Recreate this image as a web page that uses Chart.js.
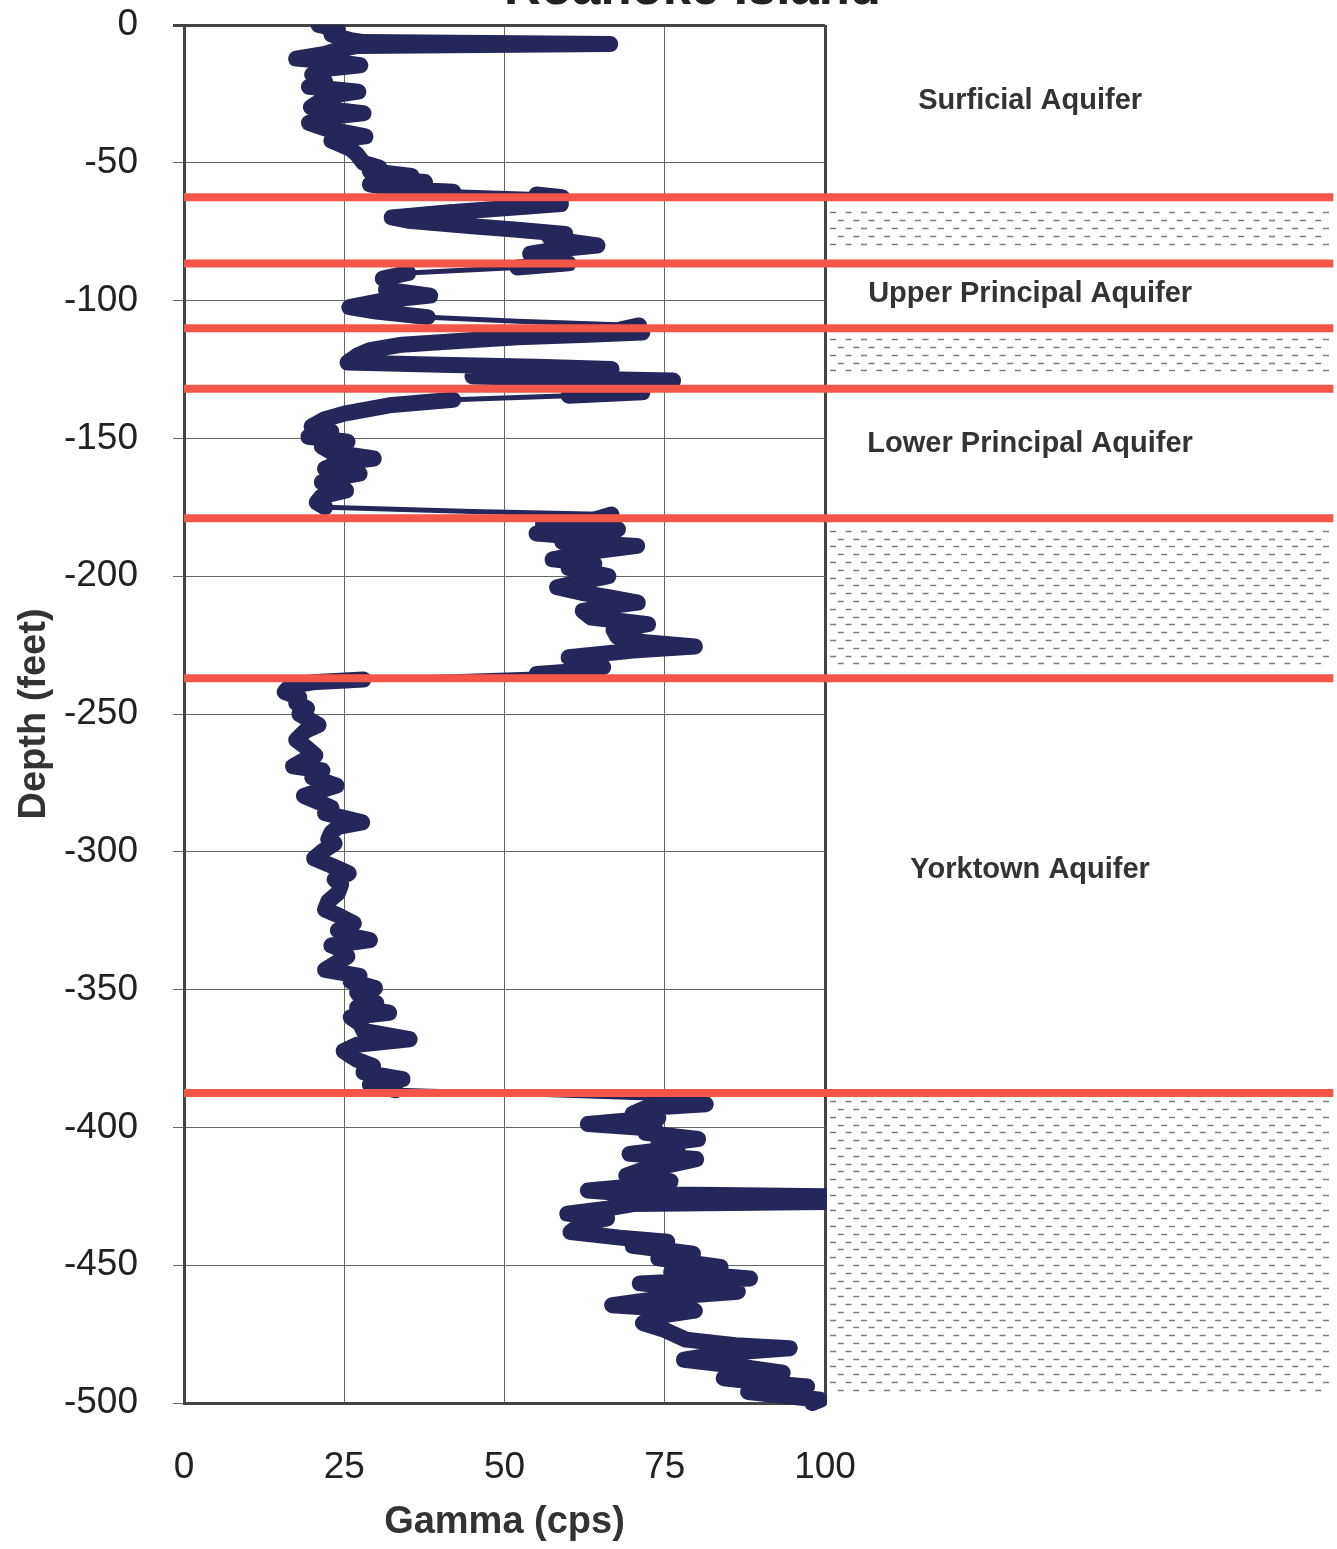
<!DOCTYPE html>
<html>
<head>
<meta charset="utf-8">
<script src="https://cdn.jsdelivr.net/npm/chart.js@4.4.1/dist/chart.umd.min.js"></script>
<style>
  html, body { margin: 0; padding: 0; background: #fff; }
  #wrap { position: relative; width: 1337px; height: 1549px; }
</style>
</head>
<body>
<div id="wrap"><canvas id="chart"></canvas></div>
<script>
const chartTitle = "Roanoke Island";

// gamma log (depth in feet, negative downwards)
const depthFt = [
  0, -1.5, -3.5, -5.5, -6.2, -6.9, -7.6, -9, -10.5, -12.2, -13.5, -14.6, -16, -18, -20.5, -22.4, -24.2, -26, -28, -29.8,
  -32, -33.5, -35.5, -37.5, -40.4, -42, -45, -47, -50, -51.8, -53, -54.8, -56, -57, -57.8, -59.5, -60.5, -61.5, -62.5, -64,
  -65, -66.5, -68, -69.8, -71, -73, -74.3, -75.8, -77, -78.5, -80, -81.5, -83, -85, -86.5, -88, -90, -92, -94, -96,
  -98.2, -100, -102.4, -104, -106, -107.5, -109, -110.5, -111.6, -112.5, -113.3, -114.5, -116, -118, -120, -122.5, -123.3, -124, -124.8, -126,
  -126.8, -127.5, -128.3, -129, -131, -133.3, -134.5, -136, -138, -141, -143, -145.7, -147.5, -149.4, -151.2, -153, -155, -157.3, -159, -161,
  -162.8, -164.5, -165.9, -167.5, -168.9, -171, -173.2, -175, -176.5, -177.6, -179.5, -181, -183, -184.5, -186, -187.5, -189, -191, -193.9, -195.5,
  -197, -200, -202, -204, -206, -207.5, -209.6, -211, -212.6, -215, -217.4, -219.5, -222, -224, -225.5, -227, -229.4, -231, -233, -234.5,
  -235.5, -236.5, -237.5, -238.5, -240, -242, -244, -246, -248, -250, -252, -254, -256, -259.4, -262, -265, -267, -269, -270.5, -273,
  -276, -278, -279.7, -282, -284, -286, -289.3, -291, -293, -295.5, -297, -300, -302.4, -305, -307.8, -310, -312, -315, -318, -321,
  -323, -326, -328.5, -330, -332, -334, -336, -338, -340, -342.8, -345, -347, -349.4, -351, -352.5, -354.8, -356.5, -358.4, -360, -362.5,
  -365, -368, -370, -372.3, -374, -375.5, -377.7, -380, -382.5, -384.5, -386.5, -388, -389.5, -391.6, -393, -395, -396.5, -398.8, -400.5, -402,
  -404.2, -406, -407.5, -409.6, -411.5, -413.5, -415, -417.5, -419.5, -421, -422.9, -424.2, -425, -427, -427.8, -429.5, -431.3, -433, -435, -438,
  -440, -441.5, -443, -445.8, -447.5, -450.6, -452.5, -454.8, -455.6, -456.6, -458, -459.6, -461.5, -464.5, -466.5, -468.5, -471, -473.5, -477, -479,
  -480.1, -482, -484.3, -486.5, -489, -491, -492.5, -494, -496, -498.8, -500
];
const gammaCps = [
  21, 24, 23, 26, 28, 66.5, 27, 24, 22, 17.5, 24, 27.5, 22, 20, 22, 19.5, 27.2, 22, 21, 19.8,
  28, 22, 19.5, 22, 28.3, 23, 26, 27, 28, 30.5, 29, 35.5, 32, 37.6, 29, 33, 42, 55, 59, 58,
  58.8, 50, 41, 32.4, 35, 45, 52, 59.5, 57, 60, 64.5, 58, 54, 56, 60, 52, 35, 31, 32, 31.5,
  38.4, 31, 25.8, 30, 38, 52, 71, 68, 71.5, 62, 52, 44, 34, 29, 27, 25.5, 40, 55, 66.7, 66,
  56, 45, 60, 76.3, 66, 71.5, 60, 42, 32, 25, 22, 19.9, 23, 19.4, 25.5, 21.5, 23, 29.6, 24, 22,
  27.4, 23, 21.5, 23, 25.3, 21.5, 20.7, 22, 45, 66.7, 64, 56, 67.7, 55, 63, 59, 70.7, 64, 57.5, 64,
  60, 66.2, 62, 58.2, 62, 66, 70.8, 66, 62.2, 63.5, 72.4, 67, 67.6, 72, 79.7, 70, 60, 63, 65.4, 61,
  55, 42, 28, 20, 16.5, 15.7, 18, 17.5, 19.2, 18, 19.5, 21, 19, 17.5, 19, 20.5, 18.5, 17, 21.6, 20,
  23.8, 21, 18.7, 21, 23, 22, 27.8, 24, 23, 22.5, 23.5, 21.5, 20.3, 23, 25.7, 23.5, 24.5, 24, 22.5, 22,
  24, 26.5, 24, 25, 29, 23, 25, 25.5, 24, 22, 27.4, 26, 29.8, 27, 27.5, 30, 27, 32, 26, 27.5,
  28, 35.2, 27, 24.9, 26, 27, 29.5, 28, 34.1, 29, 33, 55, 75, 81.4, 72, 70, 74, 63, 73.5, 72,
  80.2, 74, 77, 69.5, 79.9, 76, 72, 69, 75.9, 72, 63, 70, 102, 102, 70, 66, 59.8, 66, 62, 60.3,
  68, 75.4, 70, 79.4, 74, 83.7, 76, 88.3, 80, 71.1, 78, 86.4, 76, 66.8, 79.7, 74, 71.6, 75, 78.3, 86,
  94.5, 84, 78, 86, 93.4, 84.2, 90, 97.2, 88, 99.3, 98
];

// aquifer boundaries (red lines) and confining-unit hatch zones
const boundaryDepthFt = [-62.5, -86.5, -110, -132, -179, -237, -387.5];
const hatchTopFt = [-68, -114, -183.5, -390.5];
const hatchBottomFt = [-82, -126.5, -233, -498];
const zoneNames = ["Surficial Aquifer", "Upper Principal Aquifer", "Lower Principal Aquifer", "Yorktown Aquifer"];
const zoneLabelDepthFt = [-27.7, -97.5, -151.9, -306.6];

const FONT = "'Liberation Sans', Arial, sans-serif";
const lineEndX = 179.3;      // red lines run past the plot to the page edge
const hatchFromX = 100.8;
const hatchToX = 179;
const labelX = 132;

function isSweep(ctx) {
  const dx = Math.abs(ctx.p1.parsed.x - ctx.p0.parsed.x);
  const dy = Math.abs(ctx.p1.parsed.y - ctx.p0.parsed.y);
  return dx >= 13 && dy >= 0.9;
}

const zonePlugin = {
  id: "zones",
  beforeDatasetsDraw(chart) {
    const { ctx, scales: { x, y } } = chart;
    const x0 = x.getPixelForValue(hatchFromX);
    const x1 = x.getPixelForValue(hatchToX);
    ctx.save();
    ctx.strokeStyle = "rgba(90,90,90,0.8)";
    ctx.lineWidth = 1.4;
    hatchTopFt.forEach((top, i) => {
      const y0 = y.getPixelForValue(top);
      const y1 = y.getPixelForValue(hatchBottomFt[i]);
      let row = 0;
      for (let py = y0; py <= y1 + 0.1; py += 7.8, row++) {
        const yy = Math.round(py) + 0.5;
        ctx.beginPath();
        for (let px = x0 + (row % 2) * 7.7; px + 6 <= x1; px += 15.4) {
          ctx.moveTo(px, yy);
          ctx.lineTo(px + 6, yy);
        }
        ctx.stroke();
      }
    });
    ctx.restore();
  },
  afterDatasetsDraw(chart) {
    const { ctx, scales: { x, y } } = chart;
    ctx.save();
    ctx.fillStyle = "#333";
    ctx.font = "bold 29px " + FONT;
    ctx.textAlign = "center";
    ctx.textBaseline = "middle";
    zoneNames.forEach((name, i) => {
      ctx.fillText(name, x.getPixelForValue(labelX), y.getPixelForValue(zoneLabelDepthFt[i]));
    });
    // title sits mostly above the page, as in the scan
    ctx.fillStyle = "#222";
    ctx.font = "bold 51px " + FONT;
    ctx.textBaseline = "alphabetic";
    ctx.fillText(chartTitle, chart.width * 0.518, 4);
    ctx.restore();
  }
};

const datasets = boundaryDepthFt.map(d => ({
  data: [{ x: 0, y: d }, { x: lineEndX, y: d }],
  showLine: true,
  borderColor: "#f5564a",
  borderWidth: 8,
  borderCapStyle: "butt",
  pointRadius: 0,
  clip: false
}));

datasets.push({
  label: "Gamma",
  data: depthFt.map((d, i) => ({ x: gammaCps[i], y: d })),
  showLine: true,
  borderColor: "#25265a",
  borderWidth: 16,
  borderCapStyle: "round",
  borderJoinStyle: "round",
  pointRadius: 0,
  tension: 0,
  clip: { left: 10, top: 0, right: 2, bottom: 10 },
  segment: { borderWidth: ctx => isSweep(ctx) ? 5 : 16 }
});

const ctx = document.getElementById("chart").getContext("2d");
new Chart(ctx, {
  type: "scatter",
  data: { datasets },
  plugins: [zonePlugin],
  options: {
    responsive: true,
    maintainAspectRatio: false,
    animation: false,
    devicePixelRatio: 1,
    layout: { padding: { top: 25, right: 512, bottom: 0, left: 0 } },
    plugins: { legend: { display: false }, tooltip: { enabled: false } },
    scales: {
      x: {
        type: "linear",
        min: 0,
        max: 100,
        afterFit: axis => { axis.height = 146; axis.paddingLeft = 0; axis.paddingRight = 0; },
        ticks: { stepSize: 25, color: "#222", padding: 43, font: { family: FONT, size: 37 } },
        grid: {
          drawTicks: false,
          color: c => (c.tick && c.tick.value === 100) ? "#444" : "#666",
          lineWidth: c => (c.tick && c.tick.value === 100) ? 3 : 1
        },
        border: { display: true, color: "#444", width: 3 },
        title: { display: true, text: "Gamma (cps)", color: "#333", padding: 4, font: { family: FONT, size: 38, weight: "bold" } }
      },
      y: {
        type: "linear",
        min: -500,
        max: 0,
        afterFit: axis => { axis.width = 184; axis.paddingTop = 0; axis.paddingBottom = 0; },
        ticks: { stepSize: 50, color: "#222", padding: 35, font: { family: FONT, size: 37 } },
        grid: {
          tickLength: 11,
          color: c => (c.tick && c.tick.value === 0) ? "#444" : "#666",
          lineWidth: c => (c.tick && c.tick.value === 0) ? 3 : 1
        },
        border: { display: true, color: "#444", width: 3 },
        title: { display: true, text: "Depth (feet)", color: "#333", padding: 12, font: { family: FONT, size: 38, weight: "bold" } }
      }
    }
  }
});
</script>
</body>
</html>
